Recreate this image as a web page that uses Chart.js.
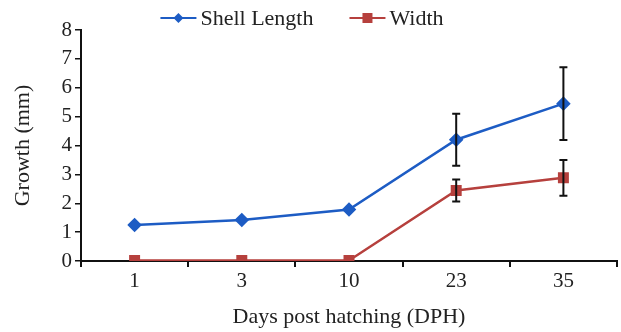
<!DOCTYPE html>
<html lang="en">
<head>
  <meta charset="UTF-8">
  <title>Growth</title>
  <script src="https://cdn.jsdelivr.net/npm/chart.js"></script>
  <style>
    html, body { margin: 0; padding: 0; background: #fff; }
    #wrap { width: 621px; height: 332px; }
  </style>
</head>
<body>
  <div id="wrap"><canvas id="growthChart" width="621" height="332"></canvas></div>
  <script>
    // data
    const days = ['1', '3', '10', '23', '35'];
    const shellLength = [1.25, 1.42, 1.78, 4.2, 5.45];
    const shellErr = [0, 0, 0, 0.9, 1.26];
    const widthVals = [0.02, 0.02, 0.02, 2.44, 2.88];
    const widthErr = [0, 0, 0, 0.38, 0.62];
    const yTicks = [0, 1, 2, 3, 4, 5, 6, 7, 8];

    const blue = '#1d5cc4';
    const red = '#b6403d';
    const serif = "'Liberation Serif', 'DejaVu Serif', serif";

    const errorBars = {
      id: 'errorBars',
      afterDatasetsDraw(chart) {
        const ctx = chart.ctx;
        const x = chart.scales.x, y = chart.scales.y;
        const sets = [[shellLength, shellErr], [widthVals, widthErr]];
        ctx.save();
        ctx.strokeStyle = '#111';
        ctx.lineWidth = 2;
        sets.forEach(([vals, errs]) => {
          vals.forEach((v, i) => {
            if (!errs[i]) return;
            const px = x.getPixelForValue(i);
            const top = y.getPixelForValue(v + errs[i]);
            const bot = y.getPixelForValue(v - errs[i]);
            ctx.beginPath();
            ctx.moveTo(px, top); ctx.lineTo(px, bot);
            ctx.moveTo(px - 4, top); ctx.lineTo(px + 4, top);
            ctx.moveTo(px - 4, bot); ctx.lineTo(px + 4, bot);
            ctx.stroke();
          });
        });
        ctx.restore();
      }
    };

    // legend drawn by hand: short line with marker, then the label
    const lineLegend = {
      id: 'lineLegend',
      afterDraw(chart) {
        const ctx = chart.ctx;
        const sets = chart.data.datasets;
        const iconW = 36, textGap = 4, itemGap = 36, cy = 18;
        ctx.save();
        ctx.font = "22px " + serif;
        const widths = sets.map(ds => ctx.measureText(ds.label).width);
        let total = 0;
        widths.forEach((w, i) => { total += iconW + textGap + w + (i ? itemGap : 0); });
        let x = 302 - total / 2;
        sets.forEach((ds, i) => {
          ctx.strokeStyle = ds.borderColor;
          ctx.fillStyle = ds.borderColor;
          ctx.lineWidth = 2;
          ctx.beginPath(); ctx.moveTo(x, cy); ctx.lineTo(x + iconW, cy); ctx.stroke();
          const mx = x + iconW / 2;
          ctx.beginPath();
          if (ds.pointStyle === 'rectRot') {
            ctx.moveTo(mx, cy - 5); ctx.lineTo(mx + 5, cy); ctx.lineTo(mx, cy + 5); ctx.lineTo(mx - 5, cy);
            ctx.closePath();
          } else {
            ctx.rect(mx - 5, cy - 5, 10, 10);
          }
          ctx.fill();
          ctx.fillStyle = '#222';
          ctx.textBaseline = 'middle';
          ctx.fillText(ds.label, x + iconW + textGap, cy + 1);
          x += iconW + textGap + widths[i] + itemGap;
        });
        ctx.restore();
      }
    };

    const ctx = document.getElementById('growthChart').getContext('2d');
    new Chart(ctx, {
      type: 'line',
      data: {
        labels: days,
        datasets: [
          {
            label: 'Shell Length',
            data: shellLength,
            borderColor: blue,
            backgroundColor: blue,
            borderWidth: 2.5,
            pointStyle: 'rectRot',
            pointRadius: 5.5,
            tension: 0
          },
          {
            label: 'Width',
            data: widthVals,
            borderColor: red,
            backgroundColor: red,
            borderWidth: 2.5,
            pointStyle: 'rect',
            pointRadius: 6,
            tension: 0
          }
        ]
      },
      plugins: [errorBars, lineLegend],
      options: {
        responsive: false,
        animation: false,
        layout: { autoPadding: false, padding: { left: 0, right: 4, top: 30, bottom: 2 } },
        plugins: {
          tooltip: { enabled: false },
          legend: { display: false }
        },
        scales: {
          x: {
            offset: true,
            afterFit: function(axis) { axis.height = 69; },
            grid: {
              offset: true,
              drawOnChartArea: false,
              drawTicks: true,
              tickLength: 6,
              color: '#111',
              lineWidth: 2
            },
            border: { color: '#111', width: 2 },
            ticks: { color: '#222', font: { family: serif, size: 21 }, padding: 2 },
            title: {
              display: true,
              text: 'Days post hatching (DPH)',
              color: '#222',
              font: { family: serif, size: 22 },
              padding: { top: 2, bottom: 0 }
            }
          },
          y: {
            min: 0,
            max: 8,
            afterFit: function(axis) { axis.width = 81; },
            afterBuildTicks: function(axis) {
              axis.ticks = yTicks.map(v => ({ value: v }));
            },
            grid: {
              drawOnChartArea: false,
              drawTicks: true,
              tickLength: 6,
              color: '#111',
              lineWidth: 1.5
            },
            border: { color: '#111', width: 2 },
            ticks: { color: '#222', font: { family: serif, size: 21 }, padding: 3, autoSkip: false },
            title: {
              display: true,
              text: 'Growth (mm)',
              color: '#222',
              font: { family: serif, size: 22 },
              padding: { top: 10, bottom: 0 }
            }
          }
        }
      }
    });
  </script>
</body>
</html>
